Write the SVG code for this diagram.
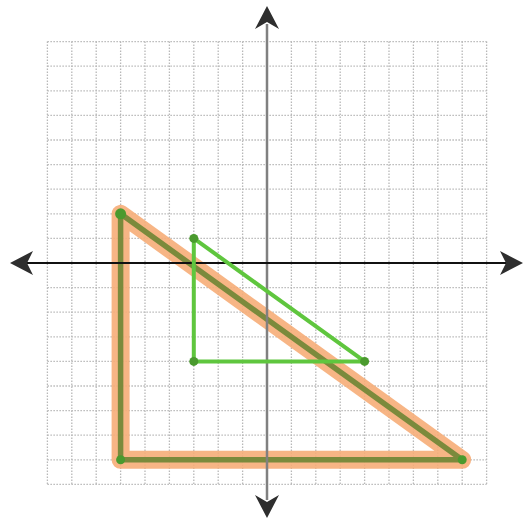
<svg xmlns="http://www.w3.org/2000/svg" width="529" height="521" viewBox="0 0 529 521">
<style>
.grid{stroke:#b8b8b8;stroke-width:1.3;stroke-dasharray:1.5 1.5;fill:none}
.head{fill:#2e2e2e}
.orange{fill:none;stroke:#f6ad78;stroke-width:18;stroke-linejoin:round;stroke-linecap:round;opacity:0.9}
.olive{fill:none;stroke:#7b8a3c;stroke-width:5.5;stroke-linejoin:round;stroke-linecap:round}
.green{fill:none;stroke:#5fc63e;stroke-width:4;stroke-linejoin:round;stroke-linecap:round}
.dot{fill:#4a9a2e}
</style>
<rect width="529" height="521" fill="#ffffff"/>
<g id="grid">
<path class="grid" d="M47.4 41.6V484.4M71.8 41.6V484.4M96.2 41.6V484.4M120.6 41.6V484.4M145 41.6V484.4M169.4 41.6V484.4M193.8 41.6V484.4M218.2 41.6V484.4M242.6 41.6V484.4M291.4 41.6V484.4M315.8 41.6V484.4M340.2 41.6V484.4M364.6 41.6V484.4M389 41.6V484.4M413.4 41.6V484.4M437.8 41.6V484.4M462.2 41.6V484.4M486.6 41.6V484.4"/>
<path class="grid" d="M47.4 41.6H486.6M47.4 66.2H486.6M47.4 90.8H486.6M47.4 115.4H486.6M47.4 140H486.6M47.4 164.6H486.6M47.4 189.2H486.6M47.4 213.8H486.6M47.4 238.4H486.6M47.4 287.6H486.6M47.4 312.2H486.6M47.4 336.8H486.6M47.4 361.4H486.6M47.4 386H486.6M47.4 410.6H486.6M47.4 435.2H486.6M47.4 459.8H486.6M47.4 484.4H486.6"/>
</g>
<g id="orange-triangle">
<path class="orange" d="M120.6 213.8L120.6 459.8L462.2 459.8Z"/>
<path class="olive" d="M120.6 213.8L120.6 459.8L462.2 459.8Z"/>
<circle class="dot" cx="120.6" cy="213.8" r="5.5"/>
<circle class="dot" cx="120.6" cy="459.8" r="4.5"/>
<circle class="dot" cx="462.2" cy="459.8" r="4.5"/>
</g>
<g id="axes">
<line x1="267" y1="24" x2="267" y2="500" stroke="#808080" stroke-width="2.5"/>
<line x1="26" y1="263" x2="506" y2="263" stroke="#111" stroke-width="2"/>
<path class="head" d="M267 6L279 29L267 22L255 29Z"/>
<path class="head" d="M267 518L279 495L267 502L255 495Z"/>
<path class="head" d="M10 263L33 251L27 263L33 275Z"/>
<path class="head" d="M523 263L500 251L506 263L500 275Z"/>
</g>
<g id="green-triangle">
<path class="green" d="M193.8 238.4L193.8 361.4L364.6 361.4Z"/>
<circle class="dot" cx="193.8" cy="238.4" r="4.5"/>
<circle class="dot" cx="193.8" cy="361.4" r="4.5"/>
<circle class="dot" cx="364.6" cy="361.4" r="4.5"/>
</g>
</svg>
